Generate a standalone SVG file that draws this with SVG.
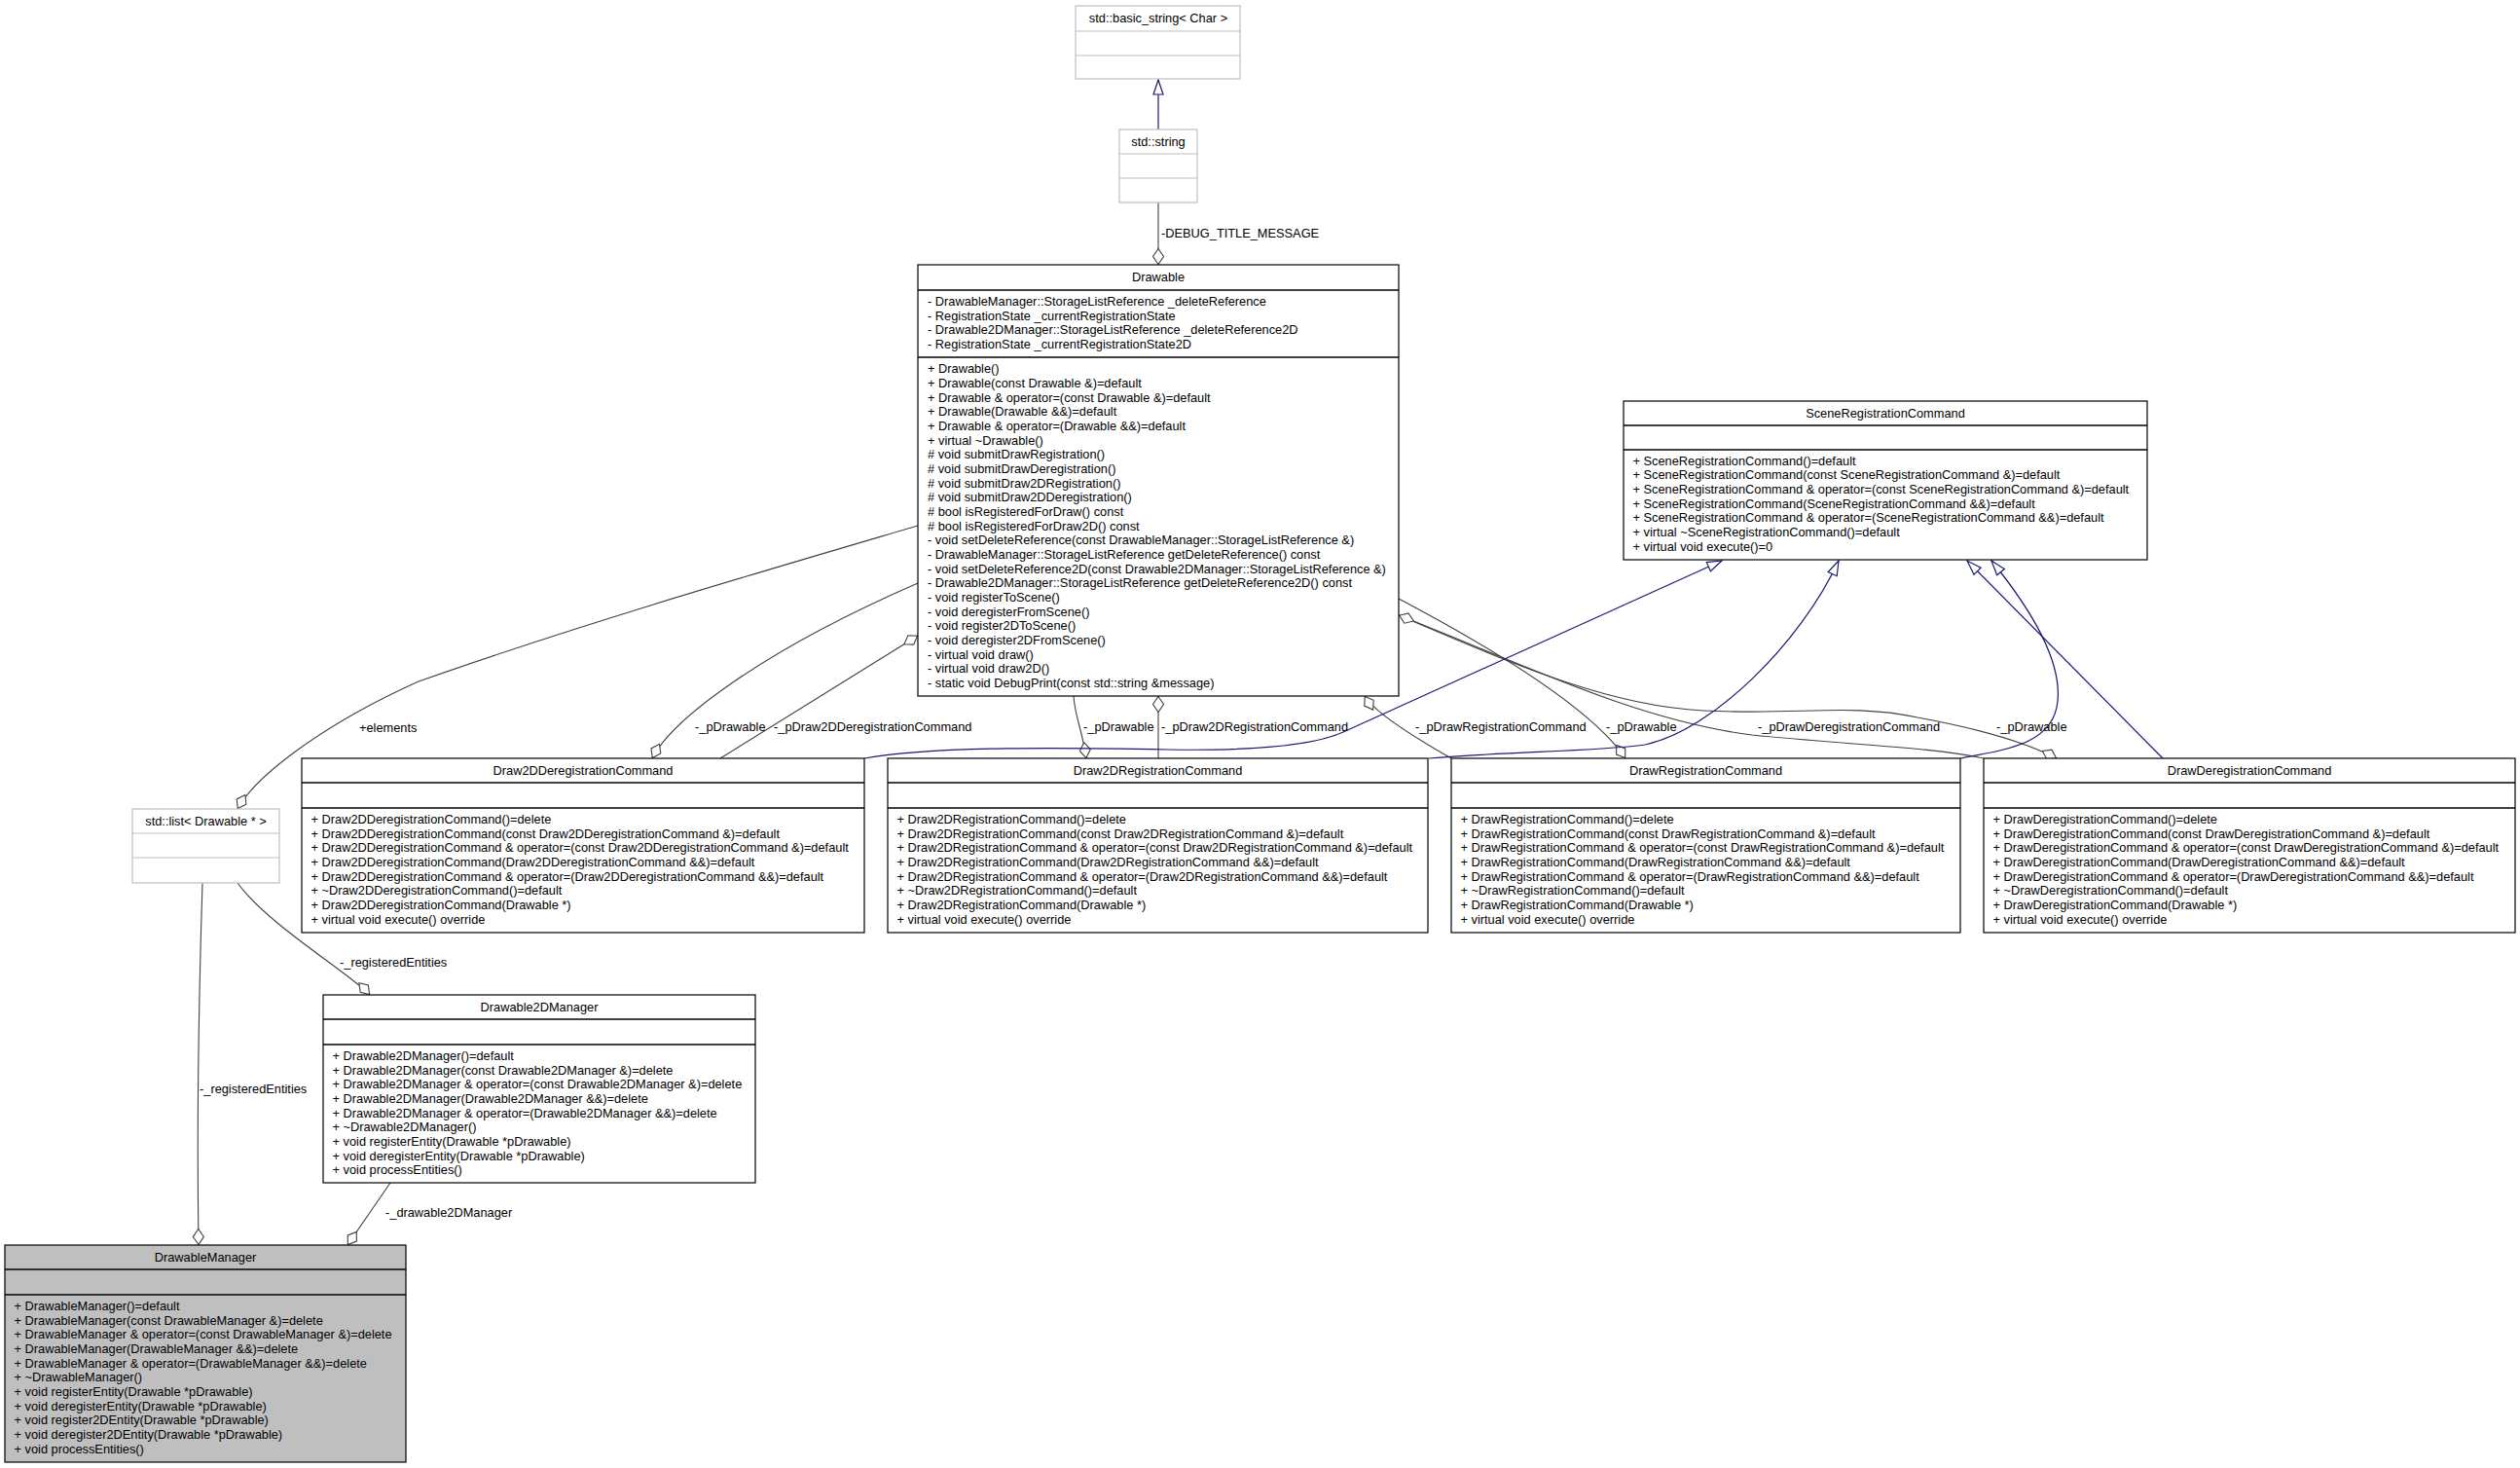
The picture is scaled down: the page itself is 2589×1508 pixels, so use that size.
<svg xmlns="http://www.w3.org/2000/svg" width="2589" height="1508" viewBox="0 0 2589 1508">
<style>
text{font-family:"Liberation Sans",Arial,sans-serif;font-size:12.8px;fill:#000}
.t{text-anchor:middle}
.b{fill:#fff;stroke:#000;stroke-width:1.2}
.bf{fill:#bfbfbf;stroke:#000;stroke-width:1.2}
.g{fill:#fff;stroke:#bfbfbf;stroke-width:1.2}
.d{stroke:#000;stroke-width:1.5}
.dg{stroke:#bfbfbf;stroke-width:1.2}
.e{fill:none;stroke:#404040;stroke-width:1.1;marker-start:url(#dia)}
.en{fill:none;stroke:#404040;stroke-width:1.1}
.i{fill:none;stroke:#191970;stroke-width:1.2;marker-end:url(#tri)}
</style>
<defs>
<marker id="dia" markerUnits="userSpaceOnUse" viewBox="-1 -7 20 14" markerWidth="20" markerHeight="14" refX="0" refY="0" orient="auto">
<path d="M0.5,0 L8.5,-5.5 L16.5,0 L8.5,5.5 Z" fill="#fff" stroke="#404040" stroke-width="1.1"/>
</marker>
<marker id="tri" markerUnits="userSpaceOnUse" viewBox="-17 -7 18 14" markerWidth="18" markerHeight="14" refX="0" refY="0" orient="auto">
<path d="M0,0 L-15,-5 L-15,5 Z" fill="#fff" stroke="#191970" stroke-width="1.2"/>
</marker>
</defs>
<rect width="2589" height="1508" fill="#fff"/>

<g id="edges">
<path class="i" d="M1190,133 L1190,82"/>
<path class="e" d="M1190,272 L1190,208"/>
<path class="e" d="M244,831 C262,798 330,745 430,700 C600,640 780,588 943,540"/>
<path class="e" d="M204,1279 C202,1150 205,1000 208,907"/>
<path class="e" d="M380,1022 C360,1000 275,950 244,907"/>
<path class="e" d="M357,1279 L401,1215"/>
<path class="e" d="M670,779 C690,740 780,670 943,599"/>
<path class="e" d="M943,653 L740,779"/>
<path class="e" d="M1116,779 C1112,750 1104,735 1103,715"/>
<path class="e" d="M1190,715 L1190,779"/>
<path class="e" d="M1402,715 C1410,728 1440,750 1491,779"/>
<path class="e" d="M1670,779 C1640,735 1560,680 1437,615"/>
<path class="e" d="M2113,779 C2080,762 2030,748 1970,737 C1900,722 1850,735 1750,730 C1650,725 1550,680 1437,632"/>
<path class="e" d="M1437,632 C1560,680 1680,740 1800,755 C1900,765 1990,768 2038,779"/>
<path class="i" d="M888,779 C960,766 1100,768 1200,770 C1260,771 1340,770 1380,752 L1769,576"/>
<path class="i" d="M1468,779 C1550,772 1640,772 1690,765 C1760,750 1850,660 1889,576"/>
<path class="i" d="M2014,779 C2060,770 2110,765 2114,720 C2118,680 2090,630 2046,576"/>
<path class="i" d="M2222,779 L2021,576"/>
<text x="1193" y="243.5">-DEBUG_TITLE_MESSAGE</text>
<text x="369" y="751.5">+elements</text>
<text x="205" y="1122.5">-_registeredEntities</text>
<text x="349" y="992.5">-_registeredEntities</text>
<text x="396" y="1249.5">-_drawable2DManager</text>
<text x="714" y="751">-_pDrawable</text>
<text x="795" y="751">-_pDraw2DDeregistrationCommand</text>
<text x="1113" y="751">-_pDrawable</text>
<text x="1193" y="751">-_pDraw2DRegistrationCommand</text>
<text x="1454" y="751">-_pDrawRegistrationCommand</text>
<text x="1650" y="751">-_pDrawable</text>
<text x="1806" y="751">-_pDrawDeregistrationCommand</text>
<text x="2051" y="751">-_pDrawable</text>
</g>

<g id="basic_string">
<rect class="g" x="1105" y="6" width="169" height="75"/>
<line class="dg" x1="1105" y1="32" x2="1274" y2="32"/>
<line class="dg" x1="1105" y1="57" x2="1274" y2="57"/>
<text class="t" x="1190" y="22.5">std::basic_string&lt; Char &gt;</text>
</g>

<g id="std_string">
<rect class="g" x="1150" y="133" width="80" height="75"/>
<line class="dg" x1="1150" y1="158" x2="1230" y2="158"/>
<line class="dg" x1="1150" y1="183" x2="1230" y2="183"/>
<text class="t" x="1190" y="149.5">std::string</text>
</g>

<g id="Drawable">
<rect class="b" x="943" y="272" width="494" height="443"/>
<line class="d" x1="943" y1="298" x2="1437" y2="298"/>
<line class="d" x1="943" y1="367" x2="1437" y2="367"/>
<text class="t" x="1190" y="289">Drawable</text>
<text y="314"><tspan x="953">- DrawableManager::StorageListReference _deleteReference</tspan><tspan x="953" dy="14.67">- RegistrationState _currentRegistrationState</tspan><tspan x="953" dy="14.67">- Drawable2DManager::StorageListReference _deleteReference2D</tspan><tspan x="953" dy="14.67">- RegistrationState _currentRegistrationState2D</tspan></text>
<text y="383.3"><tspan x="953">+ Drawable()</tspan><tspan x="953" dy="14.67">+ Drawable(const Drawable &amp;)=default</tspan><tspan x="953" dy="14.67">+ Drawable &amp; operator=(const Drawable &amp;)=default</tspan><tspan x="953" dy="14.67">+ Drawable(Drawable &amp;&amp;)=default</tspan><tspan x="953" dy="14.67">+ Drawable &amp; operator=(Drawable &amp;&amp;)=default</tspan><tspan x="953" dy="14.67">+ virtual ~Drawable()</tspan><tspan x="953" dy="14.67"># void submitDrawRegistration()</tspan><tspan x="953" dy="14.67"># void submitDrawDeregistration()</tspan><tspan x="953" dy="14.67"># void submitDraw2DRegistration()</tspan><tspan x="953" dy="14.67"># void submitDraw2DDeregistration()</tspan><tspan x="953" dy="14.67"># bool isRegisteredForDraw() const</tspan><tspan x="953" dy="14.67"># bool isRegisteredForDraw2D() const</tspan><tspan x="953" dy="14.67">- void setDeleteReference(const DrawableManager::StorageListReference &amp;)</tspan><tspan x="953" dy="14.67">- DrawableManager::StorageListReference getDeleteReference() const</tspan><tspan x="953" dy="14.67">- void setDeleteReference2D(const Drawable2DManager::StorageListReference &amp;)</tspan><tspan x="953" dy="14.67">- Drawable2DManager::StorageListReference getDeleteReference2D() const</tspan><tspan x="953" dy="14.67">- void registerToScene()</tspan><tspan x="953" dy="14.67">- void deregisterFromScene()</tspan><tspan x="953" dy="14.67">- void register2DToScene()</tspan><tspan x="953" dy="14.67">- void deregister2DFromScene()</tspan><tspan x="953" dy="14.67">- virtual void draw()</tspan><tspan x="953" dy="14.67">- virtual void draw2D()</tspan><tspan x="953" dy="14.67">- static void DebugPrint(const std::string &amp;message)</tspan></text>
</g>

<g id="SceneRegistrationCommand">
<rect class="b" x="1668" y="412" width="538" height="163"/>
<line class="d" x1="1668" y1="437" x2="2206" y2="437"/>
<line class="d" x1="1668" y1="462" x2="2206" y2="462"/>
<text class="t" x="1937" y="428.5">SceneRegistrationCommand</text>
<text y="477.5"><tspan x="1677.5">+ SceneRegistrationCommand()=default</tspan><tspan x="1677.5" dy="14.67">+ SceneRegistrationCommand(const SceneRegistrationCommand &amp;)=default</tspan><tspan x="1677.5" dy="14.67">+ SceneRegistrationCommand &amp; operator=(const SceneRegistrationCommand &amp;)=default</tspan><tspan x="1677.5" dy="14.67">+ SceneRegistrationCommand(SceneRegistrationCommand &amp;&amp;)=default</tspan><tspan x="1677.5" dy="14.67">+ SceneRegistrationCommand &amp; operator=(SceneRegistrationCommand &amp;&amp;)=default</tspan><tspan x="1677.5" dy="14.67">+ virtual ~SceneRegistrationCommand()=default</tspan><tspan x="1677.5" dy="14.67">+ virtual void execute()=0</tspan></text>
</g>

<g id="Draw2DDeregistrationCommand">
<rect class="b" x="310" y="779" width="578" height="179"/>
<line class="d" x1="310" y1="804" x2="888" y2="804"/>
<line class="d" x1="310" y1="830" x2="888" y2="830"/>
<text class="t" x="599" y="795.5">Draw2DDeregistrationCommand</text>
<text y="846"><tspan x="319.5">+ Draw2DDeregistrationCommand()=delete</tspan><tspan x="319.5" dy="14.67">+ Draw2DDeregistrationCommand(const Draw2DDeregistrationCommand &amp;)=default</tspan><tspan x="319.5" dy="14.67">+ Draw2DDeregistrationCommand &amp; operator=(const Draw2DDeregistrationCommand &amp;)=default</tspan><tspan x="319.5" dy="14.67">+ Draw2DDeregistrationCommand(Draw2DDeregistrationCommand &amp;&amp;)=default</tspan><tspan x="319.5" dy="14.67">+ Draw2DDeregistrationCommand &amp; operator=(Draw2DDeregistrationCommand &amp;&amp;)=default</tspan><tspan x="319.5" dy="14.67">+ ~Draw2DDeregistrationCommand()=default</tspan><tspan x="319.5" dy="14.67">+ Draw2DDeregistrationCommand(Drawable *)</tspan><tspan x="319.5" dy="14.67">+ virtual void execute() override</tspan></text>
</g>

<g id="Draw2DRegistrationCommand">
<rect class="b" x="912" y="779" width="555" height="179"/>
<line class="d" x1="912" y1="804" x2="1467" y2="804"/>
<line class="d" x1="912" y1="830" x2="1467" y2="830"/>
<text class="t" x="1189.5" y="795.5">Draw2DRegistrationCommand</text>
<text y="846"><tspan x="921.5">+ Draw2DRegistrationCommand()=delete</tspan><tspan x="921.5" dy="14.67">+ Draw2DRegistrationCommand(const Draw2DRegistrationCommand &amp;)=default</tspan><tspan x="921.5" dy="14.67">+ Draw2DRegistrationCommand &amp; operator=(const Draw2DRegistrationCommand &amp;)=default</tspan><tspan x="921.5" dy="14.67">+ Draw2DRegistrationCommand(Draw2DRegistrationCommand &amp;&amp;)=default</tspan><tspan x="921.5" dy="14.67">+ Draw2DRegistrationCommand &amp; operator=(Draw2DRegistrationCommand &amp;&amp;)=default</tspan><tspan x="921.5" dy="14.67">+ ~Draw2DRegistrationCommand()=default</tspan><tspan x="921.5" dy="14.67">+ Draw2DRegistrationCommand(Drawable *)</tspan><tspan x="921.5" dy="14.67">+ virtual void execute() override</tspan></text>
</g>

<g id="DrawRegistrationCommand">
<rect class="b" x="1491" y="779" width="523" height="179"/>
<line class="d" x1="1491" y1="804" x2="2014" y2="804"/>
<line class="d" x1="1491" y1="830" x2="2014" y2="830"/>
<text class="t" x="1752.5" y="795.5">DrawRegistrationCommand</text>
<text y="846"><tspan x="1500.5">+ DrawRegistrationCommand()=delete</tspan><tspan x="1500.5" dy="14.67">+ DrawRegistrationCommand(const DrawRegistrationCommand &amp;)=default</tspan><tspan x="1500.5" dy="14.67">+ DrawRegistrationCommand &amp; operator=(const DrawRegistrationCommand &amp;)=default</tspan><tspan x="1500.5" dy="14.67">+ DrawRegistrationCommand(DrawRegistrationCommand &amp;&amp;)=default</tspan><tspan x="1500.5" dy="14.67">+ DrawRegistrationCommand &amp; operator=(DrawRegistrationCommand &amp;&amp;)=default</tspan><tspan x="1500.5" dy="14.67">+ ~DrawRegistrationCommand()=default</tspan><tspan x="1500.5" dy="14.67">+ DrawRegistrationCommand(Drawable *)</tspan><tspan x="1500.5" dy="14.67">+ virtual void execute() override</tspan></text>
</g>

<g id="DrawDeregistrationCommand">
<rect class="b" x="2038" y="779" width="546" height="179"/>
<line class="d" x1="2038" y1="804" x2="2584" y2="804"/>
<line class="d" x1="2038" y1="830" x2="2584" y2="830"/>
<text class="t" x="2311" y="795.5">DrawDeregistrationCommand</text>
<text y="846"><tspan x="2047.5">+ DrawDeregistrationCommand()=delete</tspan><tspan x="2047.5" dy="14.67">+ DrawDeregistrationCommand(const DrawDeregistrationCommand &amp;)=default</tspan><tspan x="2047.5" dy="14.67">+ DrawDeregistrationCommand &amp; operator=(const DrawDeregistrationCommand &amp;)=default</tspan><tspan x="2047.5" dy="14.67">+ DrawDeregistrationCommand(DrawDeregistrationCommand &amp;&amp;)=default</tspan><tspan x="2047.5" dy="14.67">+ DrawDeregistrationCommand &amp; operator=(DrawDeregistrationCommand &amp;&amp;)=default</tspan><tspan x="2047.5" dy="14.67">+ ~DrawDeregistrationCommand()=default</tspan><tspan x="2047.5" dy="14.67">+ DrawDeregistrationCommand(Drawable *)</tspan><tspan x="2047.5" dy="14.67">+ virtual void execute() override</tspan></text>
</g>

<g id="std_list">
<rect class="g" x="136" y="831" width="151" height="76"/>
<line class="dg" x1="136" y1="856" x2="287" y2="856"/>
<line class="dg" x1="136" y1="881" x2="287" y2="881"/>
<text class="t" x="211.5" y="847.5">std::list&lt; Drawable * &gt;</text>
</g>

<g id="Drawable2DManager">
<rect class="b" x="332" y="1022" width="444" height="193"/>
<line class="d" x1="332" y1="1047" x2="776" y2="1047"/>
<line class="d" x1="332" y1="1073" x2="776" y2="1073"/>
<text class="t" x="554" y="1038.5">Drawable2DManager</text>
<text y="1089"><tspan x="341.5">+ Drawable2DManager()=default</tspan><tspan x="341.5" dy="14.67">+ Drawable2DManager(const Drawable2DManager &amp;)=delete</tspan><tspan x="341.5" dy="14.67">+ Drawable2DManager &amp; operator=(const Drawable2DManager &amp;)=delete</tspan><tspan x="341.5" dy="14.67">+ Drawable2DManager(Drawable2DManager &amp;&amp;)=delete</tspan><tspan x="341.5" dy="14.67">+ Drawable2DManager &amp; operator=(Drawable2DManager &amp;&amp;)=delete</tspan><tspan x="341.5" dy="14.67">+ ~Drawable2DManager()</tspan><tspan x="341.5" dy="14.67">+ void registerEntity(Drawable *pDrawable)</tspan><tspan x="341.5" dy="14.67">+ void deregisterEntity(Drawable *pDrawable)</tspan><tspan x="341.5" dy="14.67">+ void processEntities()</tspan></text>
</g>

<g id="DrawableManager">
<rect class="bf" x="5" y="1279" width="412" height="223"/>
<line class="d" x1="5" y1="1304" x2="417" y2="1304"/>
<line class="d" x1="5" y1="1330" x2="417" y2="1330"/>
<text class="t" x="211" y="1295.5">DrawableManager</text>
<text y="1346"><tspan x="14.5">+ DrawableManager()=default</tspan><tspan x="14.5" dy="14.67">+ DrawableManager(const DrawableManager &amp;)=delete</tspan><tspan x="14.5" dy="14.67">+ DrawableManager &amp; operator=(const DrawableManager &amp;)=delete</tspan><tspan x="14.5" dy="14.67">+ DrawableManager(DrawableManager &amp;&amp;)=delete</tspan><tspan x="14.5" dy="14.67">+ DrawableManager &amp; operator=(DrawableManager &amp;&amp;)=delete</tspan><tspan x="14.5" dy="14.67">+ ~DrawableManager()</tspan><tspan x="14.5" dy="14.67">+ void registerEntity(Drawable *pDrawable)</tspan><tspan x="14.5" dy="14.67">+ void deregisterEntity(Drawable *pDrawable)</tspan><tspan x="14.5" dy="14.67">+ void register2DEntity(Drawable *pDrawable)</tspan><tspan x="14.5" dy="14.67">+ void deregister2DEntity(Drawable *pDrawable)</tspan><tspan x="14.5" dy="14.67">+ void processEntities()</tspan></text>
</g>
</svg>
